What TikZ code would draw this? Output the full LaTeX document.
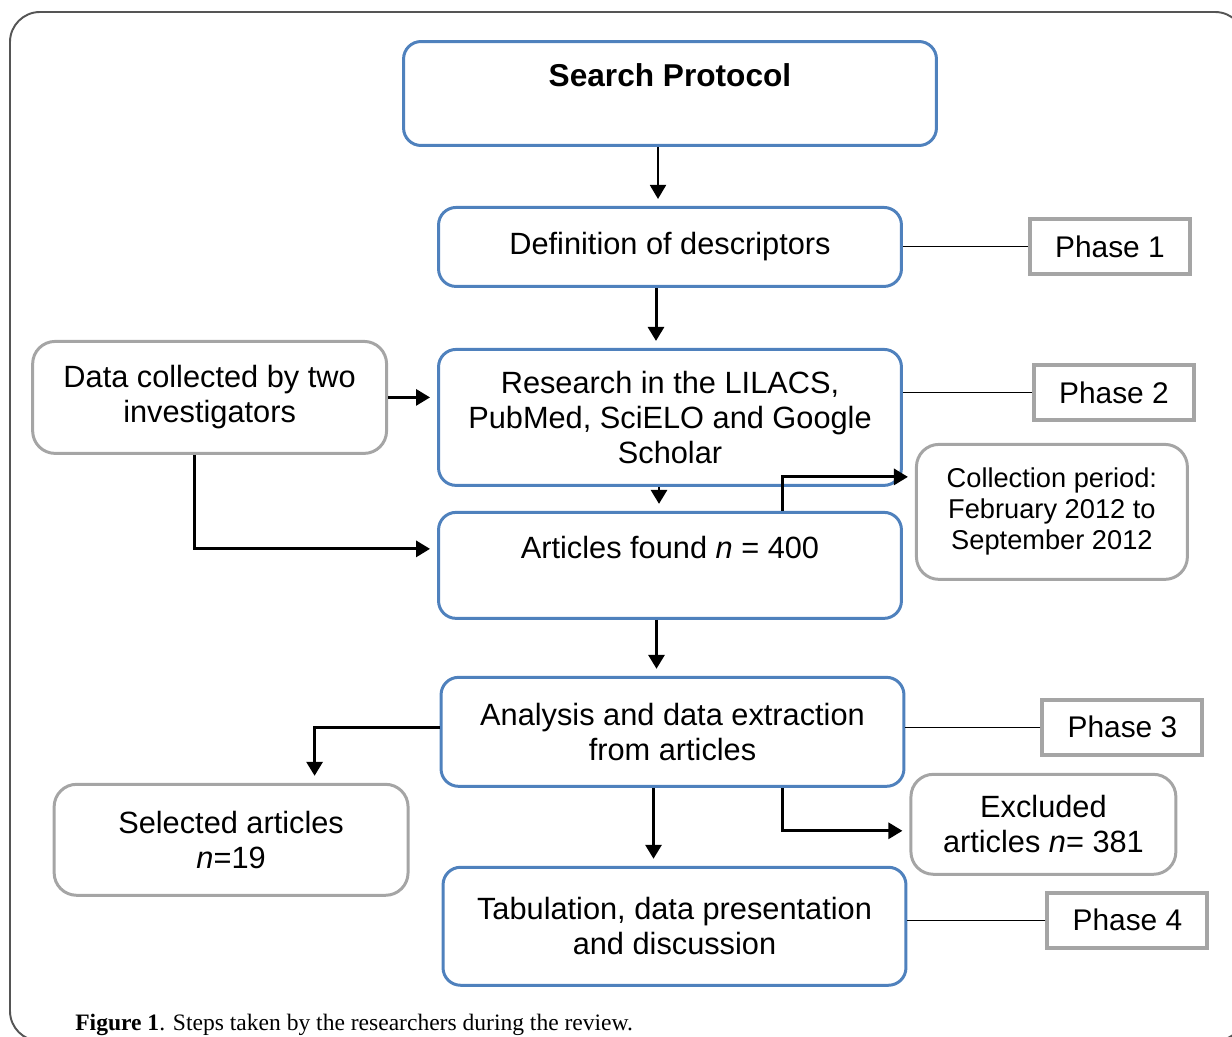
\documentclass[tikz,border=0pt]{standalone}
\usepackage{fontspec}
\setmainfont{Liberation Sans}
\newfontfamily\capfont{Liberation Serif}
\usetikzlibrary{arrows.meta, positioning}
\definecolor{boxblue}{RGB}{79,129,189}
\definecolor{boxgray}{RGB}{165,165,165}
\definecolor{framegray}{RGB}{85,85,85}

\begin{document}
\begin{tikzpicture}[
  x=0.02cm, y=-0.02cm,
  stepbox/.style={rectangle, rounded corners=0.35cm, draw=boxblue, line width=1.7pt, minimum width=9.26cm, align=center, font=\fontsize{17.5}{20}\selectfont},
  sidebox/.style={rectangle, rounded corners=0.45cm, draw=boxgray, line width=1.7pt, align=center, font=\fontsize{17.5}{20}\selectfont},
  phase/.style={rectangle, draw=boxgray, line width=2.3pt, minimum width=3.2cm, minimum height=1.1cm, font=\fontsize{17}{20}\selectfont},
  flow/.style={->, line width=1.7pt, shorten >=0.14cm},
  tie/.style={line width=0.6pt},
  >={Triangle[length=0.28cm, width=0.32cm]}
]
\useasboundingbox (0,0) rectangle (1232,1037);
\draw[framegray, line width=1.1pt, rounded corners=0.6cm] (10,12) rectangle (1245,1041);

\node[stepbox, minimum width=10.66cm, minimum height=2.08cm, font=\bfseries\fontsize{18}{21}\selectfont] (search) at (670,93.5) {Search Protocol\\\mbox{}};
\node[stepbox, minimum height=1.58cm, below=1.18cm of search] (def) {Definition of descriptors};
\node[stepbox, minimum height=2.72cm, below=1.2cm of def] (research) {Research in the LILACS,\\PubMed, SciELO and Google\\Scholar};
\node[stepbox, minimum height=2.12cm, below=0.48cm of research] (articles) {Articles found \emph{n} = 400\\\mbox{}};
\node[stepbox, minimum height=2.18cm, below=1.12cm of articles, xshift=0.05cm] (analysis) {Analysis and data extraction\\from articles};
\node[stepbox, minimum height=2.36cm, below=1.56cm of analysis, xshift=0.04cm] (tab) {Tabulation, data presentation\\and discussion};

\node[phase, right=2.5cm of def] (p1) {Phase 1};
\node[phase, right=2.58cm of research, yshift=0.5cm] (p2) {Phase 2};
\node[phase, right=2.7cm of analysis, yshift=0.09cm] (p3) {Phase 3};
\node[phase, right=2.76cm of tab, yshift=0.12cm] (p4) {Phase 4};

\node[sidebox, minimum width=7.08cm, minimum height=2.24cm, left=0.98cm of research, yshift=0.4cm] (data) {Data collected by two\\investigators};
\node[sidebox, minimum width=5.42cm, minimum height=2.7cm, right=0.24cm of articles, yshift=1.07cm, font=\fontsize{15.5}{17.6}\selectfont] (period) {Collection period:\\February 2012 to\\September 2012};
\node[sidebox, minimum width=7.08cm, minimum height=2.22cm, left=0.6cm of analysis, yshift=-2.16cm] (selected) {Selected articles\\\emph{n}=19};
\node[sidebox, minimum width=5.3cm, minimum height=2cm, right=0.08cm of analysis, yshift=-1.85cm] (excluded) {Excluded\\articles \emph{n}= 381};

\node[anchor=base west, inner sep=0pt, font=\capfont\fontsize{13.4}{15}\selectfont] (caption) at (75,1030) {\textbf{Figure 1}. Steps taken by the researchers during the review.};

\draw[flow, line width=1.1pt] ([xshift=-0.24cm]search.south) -- ([xshift=-0.24cm]search.south |- def.north);
\draw[flow] ([xshift=-0.28cm]def.south) -- ([xshift=-0.28cm]def.south |- research.north);
\draw[flow] ([xshift=-0.22cm]research.south) -- ([xshift=-0.22cm]research.south |- articles.north);
\draw[flow] ([xshift=-0.27cm]articles.south) -- ([xshift=-0.27cm]articles.south |- analysis.north);
\draw[flow] ([xshift=-0.38cm]analysis.south) -- ([xshift=-0.38cm]analysis.south |- tab.north);

\draw[flow] (data.east) -- (data.east -| research.west);
\draw[flow] ([xshift=-0.3cm]data.south) |- ([yshift=0.33cm]articles.west);
\draw[flow] ([xshift=2.25cm]articles.north) |- ([yshift=0.7cm]period.west);
\draw[flow] ([yshift=0.08cm]analysis.west) -| ([xshift=1.67cm]selected.north);
\draw[flow] ([xshift=2.2cm]analysis.south) |- ([yshift=-0.13cm]excluded.west);

\draw[tie] (p1.west) -- (p1.west -| def.east);
\draw[tie] (p2.west) -- (p2.west -| research.east);
\draw[tie] (p3.west) -- (p3.west -| analysis.east);
\draw[tie] (p4.west) -- (p4.west -| tab.east);

\end{tikzpicture}
\end{document}
